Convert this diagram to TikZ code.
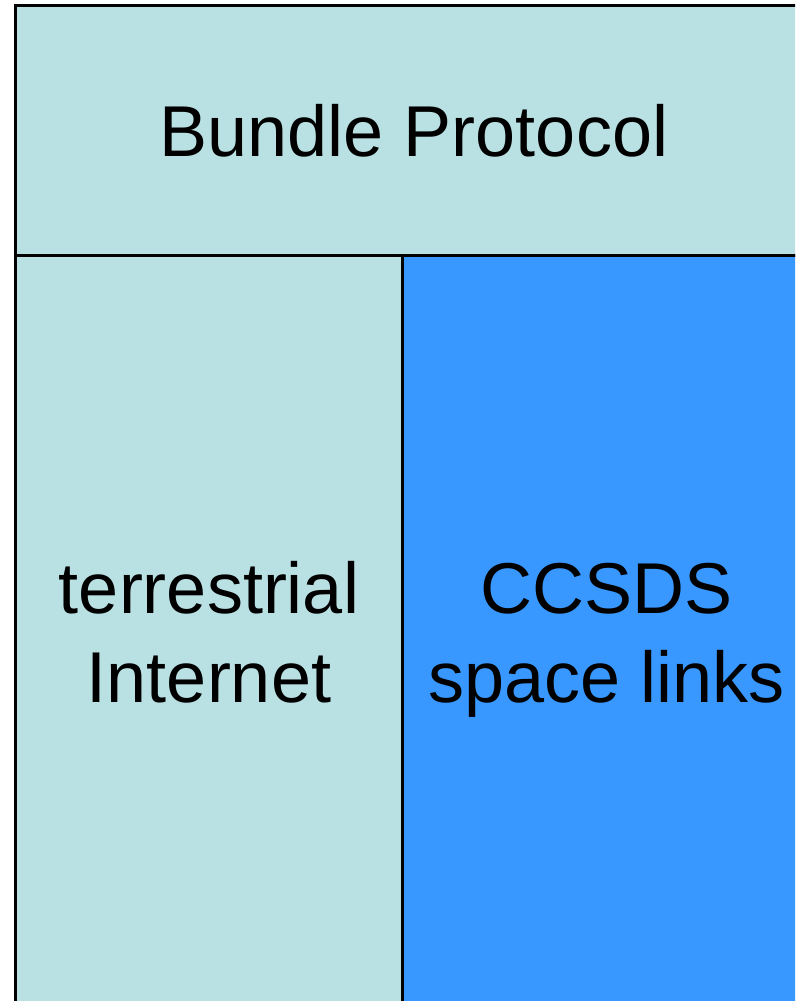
\documentclass[tikz,border=0pt]{standalone}
\usepackage{fontspec}
\setmainfont{Liberation Sans}
\definecolor{lightcell}{HTML}{B9E0E3}
\definecolor{bluecell}{HTML}{3898FF}
\begin{document}
\begin{tikzpicture}[x=1pt,y=-1pt,
  cell/.style={draw=black,line width=3pt,inner sep=0pt,outer sep=0pt},
  lbl/.style={anchor=base,inner sep=0pt,font=\fontsize{72}{89}\selectfont}]
\useasboundingbox (0,0) rectangle (795,1001);
\clip (0,0) rectangle (795,1001);
\path[cell,fill=lightcell] (15.5,5.5) rectangle (811,255.5);
\path[cell,fill=lightcell] (15.5,255.5) rectangle (402.5,1012);
\path[cell,fill=bluecell] (402.5,255.5) rectangle (811,1012);
\coordinate (top) at (413,130);
\node[lbl] (bp) at (414,156) {Bundle Protocol};
\node[lbl] (t1) at (209,613) {terrestrial};
\node[lbl] (t2) at (209,702) {Internet};
\node[lbl] (c1) at (607,613) {CCSDS};
\node[lbl] (c2) at (607,702) {space links};
\end{tikzpicture}
\end{document}
